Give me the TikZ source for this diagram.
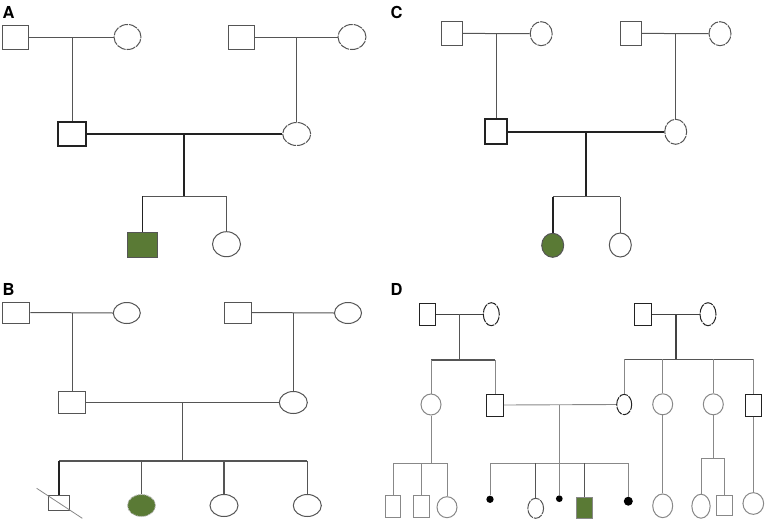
\documentclass[tikz,border=0pt]{standalone}
\usepackage{fontspec}
\setsansfont{TeX Gyre Heros}
\usetikzlibrary{shapes.geometric}
\definecolor{affg}{HTML}{5A7A35}
\definecolor{lnA}{HTML}{555555}
\definecolor{lnD}{HTML}{888888}
\definecolor{dk}{HTML}{222222}
\tikzset{
  thinl/.style={draw=lnA,line width=1pt},
  thickl/.style={draw=dk,line width=1.8pt},
  grayl/.style={draw=lnD,line width=0.9pt},
  sqr/.style 2 args={rectangle,thinl,minimum width=#1,minimum height=#2,inner sep=0pt,fill=white},
  elp/.style 2 args={ellipse,thinl,minimum width=#1,minimum height=#2,inner sep=0pt,fill=white},
  dashedge/.style={dash pattern=on 9pt off 1pt},
  bold/.style={draw=dk,line width=1.7pt},
  aff/.style={fill=affg},
  gr/.style={draw=lnD},
  dot/.style={circle,fill=black,draw=none,minimum size=#1,inner sep=0pt},
  lab/.style={anchor=north west,inner sep=0pt,font=\sffamily\bfseries\fontsize{16.5}{16.5}\selectfont}
}
\begin{document}
\begin{tikzpicture}[x=1pt,y=-1pt]
\useasboundingbox (0,0) rectangle (771,522);
% ---------- Panel A ----------
\node[lab] (la) at (2.5,6.5) {A};
\node[sqr={26pt}{24pt}] (a1) at (15.7,37) {};
\node[elp={27pt}{25pt},dashedge] (a2) at (127.5,37) {};
\node[sqr={26pt}{24pt}] (a3) at (241,37) {};
\node[elp={28pt}{25pt},dashedge] (a4) at (352,37) {};
\node[sqr={28pt}{24pt},bold] (a5) at (72.3,134) {};
\node[elp={28pt}{23pt},dashedge] (a6) at (296.7,134) {};
\node[sqr={29.7pt}{25pt},aff] (a7) at (142.5,245) {};
\node[elp={28pt}{25pt}] (a8) at (226.5,244.2) {};
\coordinate (am1) at (72.3,37);
\coordinate (am2) at (296.7,37);
\coordinate (am3) at (184.3,134);
\coordinate (as) at (184.3,196);
\draw[thinl] (a1.east) -- (a2.west);
\draw[thinl] (a3.east) -- (a4.west);
\draw[thinl] (am1) -- (a5.north);
\draw[thinl] (am2) -- (a6.north);
\draw[thickl] (a5.east) -- (a6.west);
\draw[thickl] (am3) -- (as);
\draw[thinl] (a7.north |- as) -- (a8.north |- as);
\draw[thickl] (a7.north |- as) -- (a7.north);
\draw[thinl] (a8.north |- as) -- (a8.north);
% ---------- Panel C ----------
\node[lab] (lc) at (390.5,6.5) {C};
\node[sqr={21.3pt}{23.7pt}] (c1) at (451.7,33.4) {};
\node[elp={22pt}{24pt},dashedge] (c2) at (541.2,33.7) {};
\node[sqr={21.3pt}{23.7pt}] (c3) at (630.8,33.4) {};
\node[elp={22pt}{24pt},dashedge] (c4) at (720,33.7) {};
\node[sqr={22pt}{25pt},bold] (c5) at (496,131.8) {};
\node[elp={22pt}{25pt},dashedge] (c6) at (675.7,131.8) {};
\node[elp={22pt}{24pt},aff] (c7) at (552.7,245.3) {};
\node[elp={22pt}{24pt}] (c8) at (620.3,245) {};
\coordinate (cm1) at (496,33.7);
\coordinate (cm2) at (675.7,33.7);
\coordinate (cm3) at (586,132.3);
\coordinate (cs) at (586,196.7);
\draw[thinl] (c1.east) -- (c2.west);
\draw[thinl] (c3.east) -- (c4.west);
\draw[thinl] (cm1) -- (c5.north);
\draw[thinl] (cm2) -- (c6.north);
\draw[thickl] (c5.east |- cm3) -- (c6.west |- cm3);
\draw[thickl] (cm3) -- (cs);
\draw[thinl] (c7.north |- cs) -- (c8.north |- cs);
\draw[thickl] (c7.north |- cs) -- (c7.north);
\draw[thinl] (c8.north |- cs) -- (c8.north);
% ---------- Panel B ----------
\node[lab] (lb) at (2.5,283) {B};
\node[sqr={27pt}{21pt}] (b1) at (16.3,312.5) {};
\node[elp={27pt}{21pt}] (b2) at (126.8,313) {};
\node[sqr={27pt}{21pt}] (b3) at (237.8,312.5) {};
\node[elp={27pt}{21pt}] (b4) at (348,313) {};
\node[sqr={27pt}{21.7pt}] (b5) at (72.3,402.5) {};
\node[elp={28pt}{22pt}] (b6) at (293.3,402.5) {};
\node[sqr={20.7pt}{15pt}] (b7) at (59,503.2) {};
\node[elp={28pt}{22pt},aff,draw=lnD!60,densely dotted] (b8) at (141.5,505.5) {};
\node[elp={28pt}{22pt}] (b9) at (224,505.5) {};
\node[elp={28pt}{22pt}] (b10) at (307.3,505.5) {};
\coordinate (bm1) at (72.3,312.7);
\coordinate (bm2) at (293.3,312.7);
\coordinate (bm3) at (182.7,402.7);
\coordinate (bs) at (182.7,461);
\coordinate (bx1) at (36.7,488.3);
\coordinate (bx2) at (82.3,518.3);
\draw[thinl] (b1.east) -- (b2.west);
\draw[thinl] (b3.east) -- (b4.west);
\draw[thinl] (bm1) -- (b5.north);
\draw[thinl] (bm2) -- (b6.north);
\draw[thinl,line width=1.2pt] (b5.east |- bm3) -- (b6.west |- bm3);
\draw[thinl,line width=1.2pt] (bm3) -- (bs);
\draw[thinl,line width=1.2pt] (b7.north |- bs) -- (b10.north |- bs);
\draw[thickl,line width=1.5pt] (b7.north |- bs) -- (b7.north);
\draw[thinl,line width=1.2pt] (b8.north |- bs) -- (b8.north);
\draw[thinl,line width=1.2pt] (b9.north |- bs) -- (b9.north);
\draw[thinl,line width=1.2pt] (b10.north |- bs) -- (b10.north);
\draw[draw=lnD,line width=0.8pt] (bx1) -- (bx2);
% ---------- Panel D ----------
\node[lab] (ld) at (390.5,283) {D};
\node[sqr={16pt}{21.7pt},draw=dk] (d1) at (427,314.2) {};
\node[elp={16pt}{23pt},draw=dk,dashedge] (d2) at (491.3,314.2) {};
\node[sqr={16.7pt}{21.7pt},draw=dk] (d5) at (643.3,314.2) {};
\node[elp={16pt}{23pt},draw=dk,dashedge] (d6) at (708,314.2) {};
\node[elp={20pt}{21pt},gr] (d3) at (431,404.5) {};
\node[sqr={16.7pt}{22pt},draw=dk] (d4) at (495,405) {};
\node[elp={15pt}{20.3pt},draw=dk,dashedge] (d7) at (624.2,404.5) {};
\node[elp={20pt}{21pt},gr] (d8) at (662.7,404.3) {};
\node[elp={20pt}{21pt},gr] (d9) at (713.3,404.3) {};
\node[sqr={16pt}{22pt},draw=dk] (d10) at (753.3,405) {};
% third generation
\node[sqr={14.7pt}{21.7pt},gr] (f1) at (393,506.8) {};
\node[sqr={15.7pt}{21.7pt},gr] (f2) at (421.5,506.8) {};
\node[elp={20pt}{21pt},gr] (f3) at (447,507.2) {};
\node[dot=7.3pt] (e1) at (490,499.3) {};
\node[elp={15.7pt}{20pt},draw=lnA,dashedge] (e2) at (535.7,508.3) {};
\node[dot=6.7pt] (e3) at (559.3,498.7) {};
\node[sqr={16.3pt}{20.7pt},aff,gr] (e4) at (584.3,508) {};
\node[dot=9pt] (e5) at (628.3,501.2) {};
\node[elp={20pt}{23.7pt},gr] (g1) at (662.7,505.8) {};
\node[elp={18.3pt}{24pt},gr] (h1) at (701,506.2) {};
\node[sqr={15.7pt}{20pt},gr] (h2) at (724.3,505) {};
\node[elp={20.7pt}{21.7pt},gr] (k1) at (753.3,503.5) {};
% connectors
\coordinate (dm1) at (459,314.3);
\coordinate (ds1) at (459,360);
\coordinate (dm2) at (676,314.3);
\coordinate (ds2) at (676,359.3);
\coordinate (dm3) at (559.3,405);
\coordinate (ds3) at (559.3,463.3);
\coordinate (ds4) at (431,463.3);
\coordinate (ds5) at (713.3,458.3);
\draw[draw=dk!85,line width=1.3pt] (d1.east) -- (d2.west);
\draw[draw=dk!85,line width=1.3pt] (d5.east) -- (d6.west);
\draw[grayl,draw=lnA,line width=1pt] (dm1) -- (ds1);
\draw[draw=dk!85,line width=1.3pt] (dm2) -- (ds2);
\draw[grayl,draw=lnA,line width=1.1pt] (d3.north |- ds1) -- (d4.north |- ds1);
\draw[grayl] (d3.north |- ds1) -- (d3.north);
\draw[grayl] (d4.north |- ds1) -- (d4.north);
\draw[grayl,draw=lnA,line width=1.1pt] (d7.north |- ds2) -- (d10.north |- ds2);
\draw[grayl] (d7.north |- ds2) -- (d7.north);
\draw[grayl] (d8.north |- ds2) -- (d8.north);
\draw[grayl] (d9.north |- ds2) -- (d9.north);
\draw[grayl] (d10.north |- ds2) -- (d10.north);
\draw[grayl] (d4.east) -- (d7.west);
\draw[grayl] (dm3) -- (ds3);
\draw[grayl] (e1.north |- ds3) -- (e5.north |- ds3);
\draw[grayl] (e1.north |- ds3) -- (e1.north);
\draw[grayl,draw=lnA] (e2.north |- ds3) -- (e2.north);
\draw[grayl] (e3.north |- ds3) -- (e3.north);
\draw[grayl,draw=lnA] (e4.north |- ds3) -- (e4.north);
\draw[grayl] (e5.north |- ds3) -- (e5.north);
\draw[grayl] (d3.south) -- (ds4);
\draw[grayl] (f1.north |- ds4) -- (f3.north |- ds4);
\draw[grayl] (f1.north |- ds4) -- (f1.north);
\draw[grayl] (f2.north |- ds4) -- (f2.north);
\draw[grayl] (f3.north |- ds4) -- (f3.north);
\draw[grayl] (d8.south) -- (g1.north);
\draw[grayl] (d9.south) -- (ds5);
\draw[grayl] (h1.north |- ds5) -- (h2.north |- ds5);
\draw[grayl] (h1.north |- ds5) -- (h1.north);
\draw[grayl] (h2.north |- ds5) -- (h2.north);
\draw[grayl] (d10.south) -- (k1.north);
\end{tikzpicture}
\end{document}
